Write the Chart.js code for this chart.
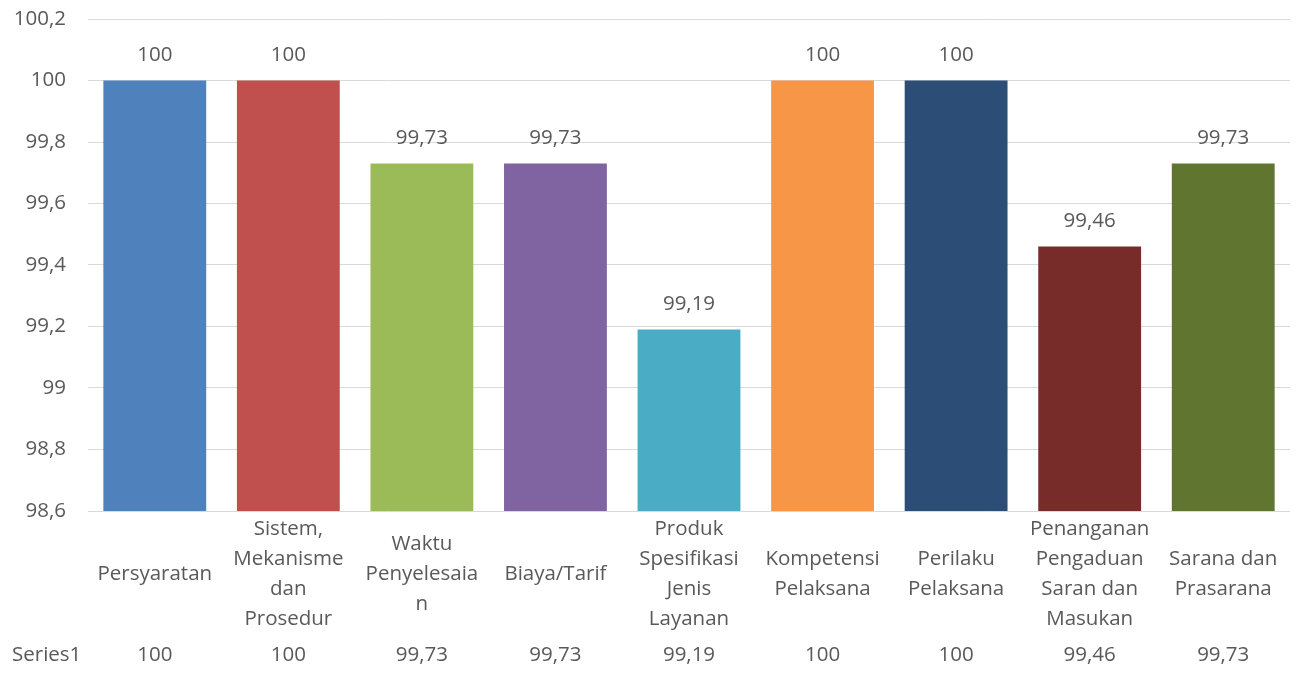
<!DOCTYPE html>
<html>
<head>
<meta charset="utf-8">
<script src="https://cdn.jsdelivr.net/npm/chart.js@4"></script>
<style>
  html, body { margin: 0; padding: 0; background: #fff; }
  #wrap { width: 1300px; height: 674px; }
</style>
</head>
<body>
<div id="wrap"><canvas id="chart" width="1300" height="674"></canvas></div>
<script>
const categories = [
  ['Persyaratan'],
  ['Sistem,', 'Mekanisme', 'dan', 'Prosedur'],
  ['Waktu', 'Penyelesaia', 'n'],
  ['Biaya/Tarif'],
  ['Produk', 'Spesifikasi', 'Jenis', 'Layanan'],
  ['Kompetensi', 'Pelaksana'],
  ['Perilaku', 'Pelaksana'],
  ['Penanganan', 'Pengaduan', 'Saran dan', 'Masukan'],
  ['Sarana dan', 'Prasarana']
];
const seriesName = 'Series1';
const values = [100, 100, 99.73, 99.73, 99.19, 100, 100, 99.46, 99.73];
const barColors = ['#4F81BD', '#C0504D', '#9BBB59', '#8064A2', '#4BACC6', '#F79646', '#2C4D75', '#772C2A', '#5F7530'];
const yMin = 98.6;
const yMax = 100.2;
const yStep = 0.2;

const FONT = '"Open Sans", sans-serif';
const FSIZE = 20.5;
const TEXT = '#595959';

function fmt(v) {
  return String(Math.round(v * 100) / 100).replace('.', ',');
}

// value labels, category labels and the data table under the chart
const labelsPlugin = {
  id: 'labelsPlugin',
  afterDatasetsDraw(chart) {
    const ctx = chart.ctx;
    const x = chart.scales.x;
    const y = chart.scales.y;
    ctx.save();
    ctx.fillStyle = TEXT;
    ctx.font = FSIZE + 'px ' + FONT;
    ctx.textAlign = 'center';
    ctx.textBaseline = 'middle';
    values.forEach((v, i) => {
      const px = x.getPixelForValue(i);
      ctx.fillText(fmt(v), px, y.getPixelForValue(v) - 25);

      const lines = categories[i];
      const lh = 30;
      const mid = 574;
      lines.forEach((ln, j) => {
        ctx.fillText(ln, px, mid + (j - (lines.length - 1) / 2) * lh);
      });

      ctx.fillText(fmt(v), px, 655);
    });
    ctx.textAlign = 'left';
    ctx.fillText(seriesName, 12, 655);
    ctx.restore();
  }
};

new Chart(document.getElementById('chart'), {
  type: 'bar',
  data: {
    labels: categories.map(c => c.join(' ')),
    datasets: [{
      label: seriesName,
      data: values,
      backgroundColor: barColors,
      categoryPercentage: 1,
      barPercentage: 0.77
    }]
  },
  options: {
    responsive: false,
    animation: false,
    layout: {
      padding: { left: 0, right: 10, top: 19, bottom: 163 }
    },
    plugins: {
      legend: { display: false },
      tooltip: { enabled: false }
    },
    scales: {
      x: {
        display: false
      },
      y: {
        min: yMin,
        max: yMax,
        afterFit(scale) {
          scale.width = 88;
          scale.paddingTop = 0;
          scale.paddingBottom = 0;
        },
        afterBuildTicks(scale) {
          const ticks = [];
          for (let k = 0; k <= Math.round((yMax - yMin) / yStep); k++) {
            ticks.push({ value: Math.round((yMin + k * yStep) * 10) / 10 });
          }
          scale.ticks = ticks;
        },
        border: { display: false },
        grid: {
          color: '#d9d9d9',
          lineWidth: 1,
          drawTicks: false
        },
        ticks: {
          color: TEXT,
          font: { family: FONT, size: FSIZE },
          padding: 22,
          callback: v => fmt(v)
        }
      }
    }
  },
  plugins: [labelsPlugin]
});
</script>
</body>
</html>
